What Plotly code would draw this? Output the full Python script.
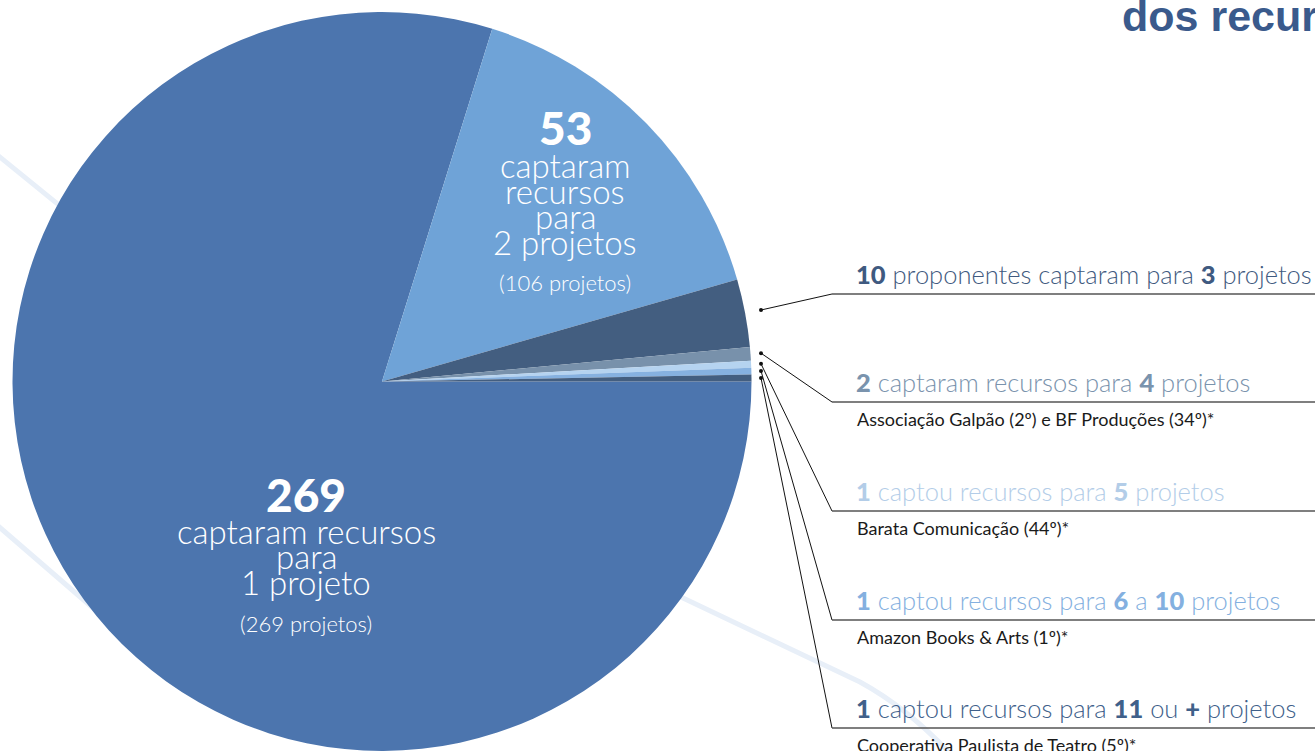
import numpy as np
import plotly.graph_objects as go

W, H = 1315, 751

# proponentes por faixa de quantidade de projetos
faixas = ["1 projeto", "2 projetos", "3 projetos", "4 projetos",
          "5 projetos", "6 a 10 projetos", "11 ou + projetos"]
proponentes = [269, 53, 10, 2, 1, 1, 1]
cores = ["#4c75ae", "#6fa3d7", "#435e80", "#7891ab", "#b5d3f0", "#86b1e0", "#435e80"]

# textos das legendas à direita (faixas 3 a 11+)
rotulos = [
    "<b>10</b> proponentes captaram para <b>3</b> projetos",
    "<b>2</b> captaram recursos para <b>4</b> projetos",
    "<b>1</b> captou recursos para <b>5</b> projetos",
    "<b>1</b> captou recursos para <b>6</b> a <b>10</b> projetos",
    "<b>1</b> captou recursos para <b>11</b> ou <b>+</b> projetos",
]
subrotulos = [
    "",
    "Associação Galpão (2º) e BF Produções (34º)*",
    "Barata Comunicação (44º)*",
    "Amazon Books & Arts (1º)*",
    "Cooperativa Paulista de Teatro (5º)*",
]
cores_rotulos = ["#3f5a80", "#7a93ad", "#b3cde8", "#84b0e0", "#40608a"]

FONTE = "Lato"
cx, cy, raio = 382, 381.5, 369.5


def px(x):
    return x / W


def py(y):
    return 1 - y / H


fig = go.Figure()

fig.add_trace(go.Pie(
    values=proponentes, labels=faixas, sort=False,
    direction="clockwise", rotation=90,
    marker=dict(colors=cores, line=dict(width=0)),
    textinfo="none", hoverinfo="skip", showlegend=False,
    domain=dict(x=[px(cx - raio), px(cx + raio)], y=[0, py(cy - raio)]),
))

# pontos de chamada: ângulo médio de cada fatia pequena
total = sum(proponentes)
acum = np.cumsum([0] + proponentes) / total * 360
meio = -(acum[:-1] + acum[1:]) / 2
ang = np.radians(meio[2:])
dot_x = np.full(len(ang), 761.0)
dot_y = cy - (dot_x - cx) * np.tan(ang)

fig.add_trace(go.Scatter(
    x=dot_x, y=dot_y, mode="markers",
    marker=dict(size=4, color="#111"),
    hoverinfo="skip", showlegend=False,
))

linhas_y = [294, 402, 511, 620, 728]
shapes = []
# linhas decorativas de fundo
for p in ["M -10 149 L 220 336",
          "M -10 519 L 160 666",
          "M 600 555 L 683 598 L 860 682 Q 915 712 965 770"]:
    shapes.append(dict(type="path", path=p, xref="x", yref="y", layer="below",
                       line=dict(color="#e8eff8", width=5)))

pesado = '<span style="font-weight:900">'
anots = []
for i, ly in enumerate(linhas_y):
    shapes.append(dict(type="line", xref="x", yref="y",
                       x0=dot_x[i], y0=dot_y[i], x1=832, y1=ly,
                       line=dict(color="#111", width=1)))
    shapes.append(dict(type="line", xref="x", yref="y",
                       x0=832, y0=ly, x1=W, y1=ly,
                       line=dict(color="#555", width=1.6)))
    anots.append(dict(x=854, y=ly - 3, xref="x", yref="y", xanchor="left", yanchor="bottom",
                      text=rotulos[i].replace("<b>", pesado).replace("</b>", "</span>"),
                      showarrow=False,
                      font=dict(family=FONTE, size=25.5, weight=300, color=cores_rotulos[i])))
    if subrotulos[i]:
        anots.append(dict(x=855, y=ly + 17, xref="x", yref="y", xanchor="left", yanchor="middle",
                          text=subrotulos[i], showarrow=False,
                          font=dict(family=FONTE, size=18, color="#1a1a1a")))


# textos dentro das fatias
def bloco(xc, linhas):
    for txt, yc, tam, peso in linhas:
        anots.append(dict(x=xc, y=yc, xref="x", yref="y", xanchor="center", yanchor="middle",
                          text=txt, showarrow=False,
                          font=dict(family=FONTE, size=tam, weight=peso, color="white")))


bloco(565, [("53", 127, 46, 900), ("captaram", 165, 33, 300), ("recursos", 191, 33, 300),
            ("para", 216, 33, 300), ("2 projetos", 242, 33, 300), ("(106 projetos)", 282, 22, 300)])
bloco(306, [("269", 494, 46, 900), ("captaram recursos", 531, 33, 300), ("para", 556, 33, 300),
            ("1 projeto", 582, 33, 300), ("(269 projetos)", 623, 22, 300)])

anots.append(dict(x=1120, y=16, xref="x", yref="y", xanchor="left", yanchor="middle",
                  text="<b>dos recursos</b>", showarrow=False,
                  font=dict(family="Liberation Sans", size=43, color="#3a5a8c")))

fig.update_layout(
    width=W, height=H, margin=dict(l=0, r=0, t=0, b=0),
    paper_bgcolor="white", plot_bgcolor="rgba(0,0,0,0)",
    xaxis=dict(range=[0, W], visible=False, fixedrange=True),
    yaxis=dict(range=[H, 0], visible=False, fixedrange=True),
    shapes=shapes, annotations=anots,
)

# sem a margem padrão do <body>, o gráfico ocupa a janela inteira
fig.write_html("out.html", config={"displayModeBar": False},
               post_script="document.body.style.margin='0';")
